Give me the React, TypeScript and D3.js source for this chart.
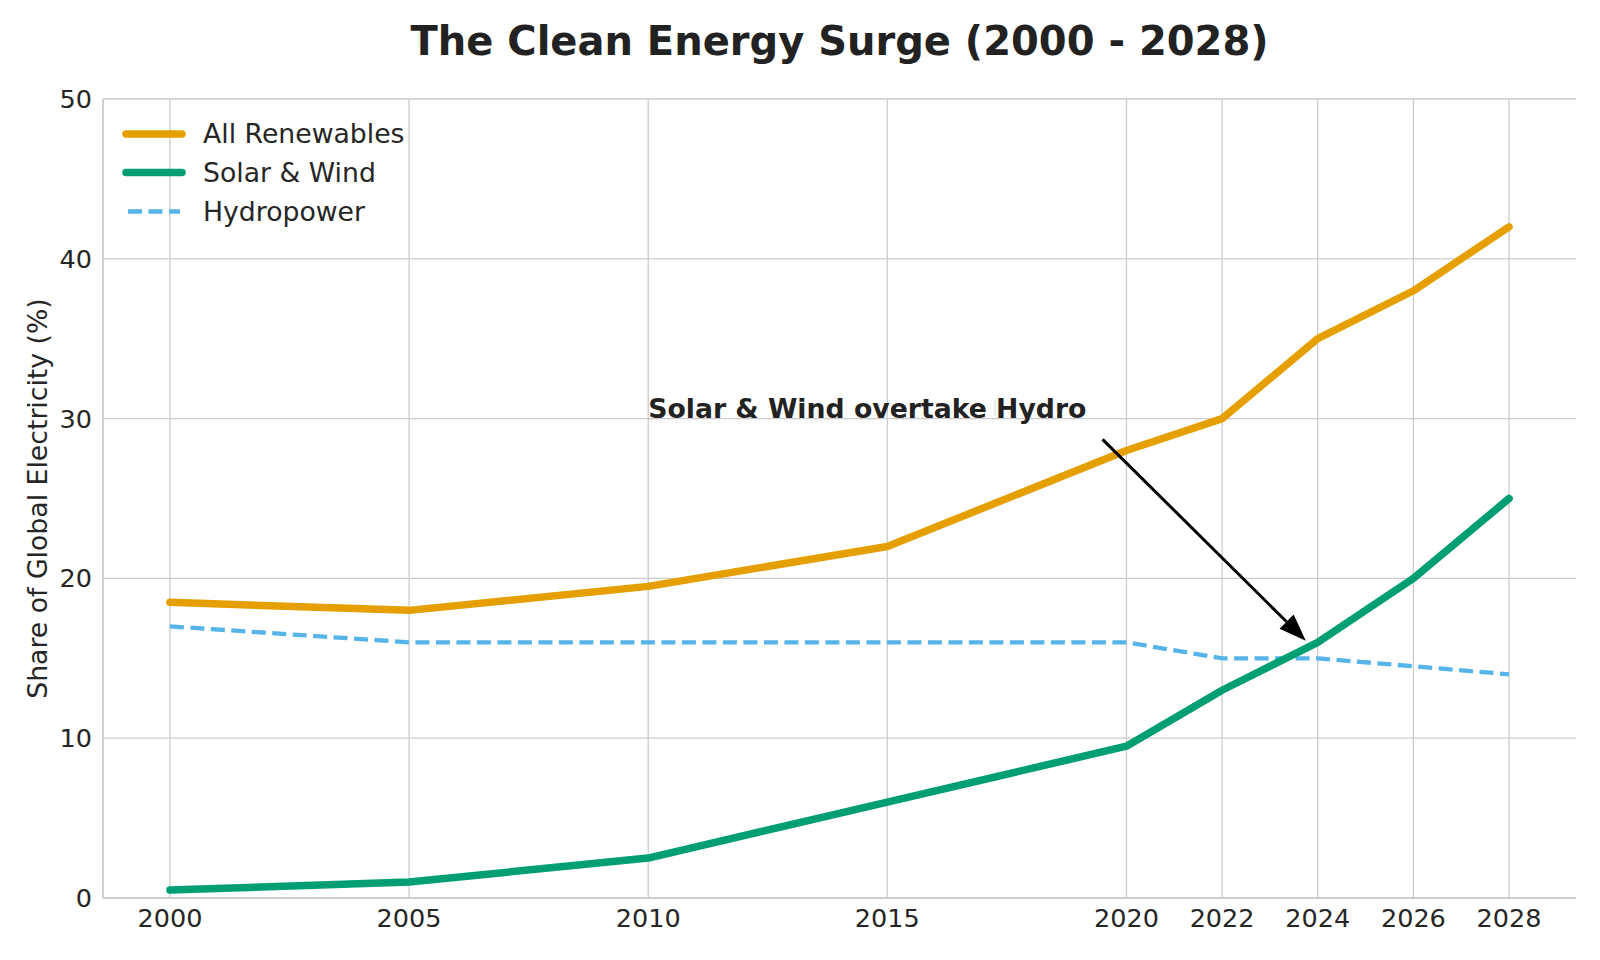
import React, { useRef, useEffect } from "react";
import * as d3 from "d3";

const years = [2000, 2005, 2010, 2015, 2020, 2022, 2024, 2026, 2028];
const allRenewables = [18.5, 18, 19.5, 22, 28, 30, 35, 38, 42];
const solarWind = [0.5, 1, 2.5, 6, 9.5, 13, 16, 20, 25];
const hydropower = [17, 16, 16, 16, 16, 15, 15, 14.5, 14];
const yTicks = [0, 10, 20, 30, 40, 50];

const seriesNames = ["All Renewables", "Solar & Wind", "Hydropower"];
const seriesColors = ["#E69F00", "#009E73", "#56B4E9"];

// annotation: text position and arrow (from -> to) in data units
const noteText = "Solar & Wind overtake Hydro";
const notePos = [2010, 30];
const arrowFrom = [2019.5, 28.7];
const arrowTo = [2023.75, 16.1];

const W = 1600;
const H = 960;
const FONT = "'DejaVu Sans', Verdana, sans-serif";

const App = () => {
  const svgRef = useRef<SVGSVGElement>(null);

  useEffect(() => {
    drawChart();
  }, []);

  const drawChart = () => {
    const svg = d3.select(svgRef.current);
    svgRef.current!.querySelectorAll("*").forEach((n) => n.remove());

    const left = 103, right = 1576, top = 99, bottom = 898;

    // 5% padding either side of the year range
    const pad = (2028 - 2000) * 0.05;
    const x = d3.scaleLinear().domain([2000 - pad, 2028 + pad]).range([left, right]);
    const y = d3.scaleLinear().domain([0, 50]).range([bottom, top]);

    svg.append("rect").attr("width", W).attr("height", H).attr("fill", "#fff");

    // grid
    const grid = svg.append("g").attr("stroke", "#cccccc").attr("stroke-width", 1.3);
    grid.selectAll(".vg").data(years).join("line")
      .attr("x1", (d) => x(d)).attr("x2", (d) => x(d))
      .attr("y1", top).attr("y2", bottom);
    grid.selectAll(".hg").data(yTicks).join("line")
      .attr("x1", left).attr("x2", right)
      .attr("y1", (d) => y(d)).attr("y2", (d) => y(d));

    // spines (left + bottom only)
    svg.append("line").attr("x1", left).attr("x2", left).attr("y1", top).attr("y2", bottom)
      .attr("stroke", "#cccccc").attr("stroke-width", 1.8);
    svg.append("line").attr("x1", left).attr("x2", right).attr("y1", bottom).attr("y2", bottom)
      .attr("stroke", "#cccccc").attr("stroke-width", 1.8);

    // tick labels
    svg.append("g").selectAll("text").data(yTicks).join("text")
      .attr("x", 92).attr("y", (d) => y(d)).attr("dy", "0.35em")
      .attr("text-anchor", "end").attr("font-family", FONT).attr("font-size", 25.5)
      .attr("fill", "#262626").text((d) => d);
    svg.append("g").selectAll("text").data(years).join("text")
      .attr("x", (d) => x(d)).attr("y", 927)
      .attr("text-anchor", "middle").attr("font-family", FONT).attr("font-size", 25.5)
      .attr("fill", "#262626").text((d) => d);

    // y label
    svg.append("text")
      .attr("transform", `translate(47, ${(top + bottom) / 2}) rotate(-90)`)
      .attr("text-anchor", "middle").attr("font-family", FONT).attr("font-size", 26.7)
      .attr("fill", "#262626").text("Share of Global Electricity (%)");

    // title
    svg.append("text")
      .attr("x", (left + right) / 2).attr("y", 55)
      .attr("text-anchor", "middle").attr("font-family", FONT).attr("font-size", 40)
      .attr("font-weight", "bold").attr("fill", "#222").text("The Clean Energy Surge (2000 - 2028)");

    // lines
    const lineGen = d3.line<number>()
      .x((_, i) => x(years[i]))
      .y((d) => y(d));

    svg.append("path").datum(hydropower)
      .attr("d", lineGen).attr("fill", "none")
      .attr("stroke", seriesColors[2]).attr("stroke-width", 4.3)
      .attr("stroke-dasharray", "14,6.5");
    svg.append("path").datum(allRenewables)
      .attr("d", lineGen).attr("fill", "none")
      .attr("stroke", seriesColors[0]).attr("stroke-width", 7.5)
      .attr("stroke-linejoin", "round").attr("stroke-linecap", "round");
    svg.append("path").datum(solarWind)
      .attr("d", lineGen).attr("fill", "none")
      .attr("stroke", seriesColors[1]).attr("stroke-width", 7.5)
      .attr("stroke-linejoin", "round").attr("stroke-linecap", "round");

    // annotation
    svg.append("text")
      .attr("x", x(notePos[0])).attr("y", y(notePos[1]) - 1)
      .attr("font-family", FONT).attr("font-size", 26.7).attr("font-weight", "bold")
      .attr("fill", "#222").text(noteText);

    const x0 = x(arrowFrom[0]), y0 = y(arrowFrom[1]);
    const x1 = x(arrowTo[0]), y1 = y(arrowTo[1]);
    const ang = Math.atan2(y1 - y0, x1 - x0);
    const headLen = 27, headHalf = 10;
    const bx = x1 - headLen * Math.cos(ang), by = y1 - headLen * Math.sin(ang);
    svg.append("line")
      .attr("x1", x0).attr("y1", y0).attr("x2", bx).attr("y2", by)
      .attr("stroke", "#000").attr("stroke-width", 3);
    const px = -Math.sin(ang), py = Math.cos(ang);
    svg.append("path")
      .attr("d", `M${x1},${y1} L${bx + px * headHalf},${by + py * headHalf} L${bx - px * headHalf},${by - py * headHalf} Z`)
      .attr("fill", "#000");

    // legend
    const legend = svg.append("g");
    const rowY = [134, 172.5, 211.5];
    seriesNames.forEach((name, i) => {
      const l = legend.append("line")
        .attr("x1", 126).attr("x2", 182).attr("y1", rowY[i]).attr("y2", rowY[i])
        .attr("stroke", seriesColors[i]);
      if (i === 2) {
        l.attr("x1", 128).attr("x2", 180).attr("stroke-width", 4.3).attr("stroke-dasharray", "14,6.5");
      } else {
        l.attr("stroke-width", 7.5).attr("stroke-linecap", "round");
      }
      legend.append("text")
        .attr("x", 203).attr("y", rowY[i]).attr("dy", "0.35em")
        .attr("font-family", FONT).attr("font-size", 26.7)
        .attr("fill", "#262626").text(name);
    });
  };

  return (
    <div style={{ position: "absolute", left: 0, top: 0 }}>
      <svg ref={svgRef} width={W} height={H} style={{ display: "block" }} />
    </div>
  );
};

export default App;
